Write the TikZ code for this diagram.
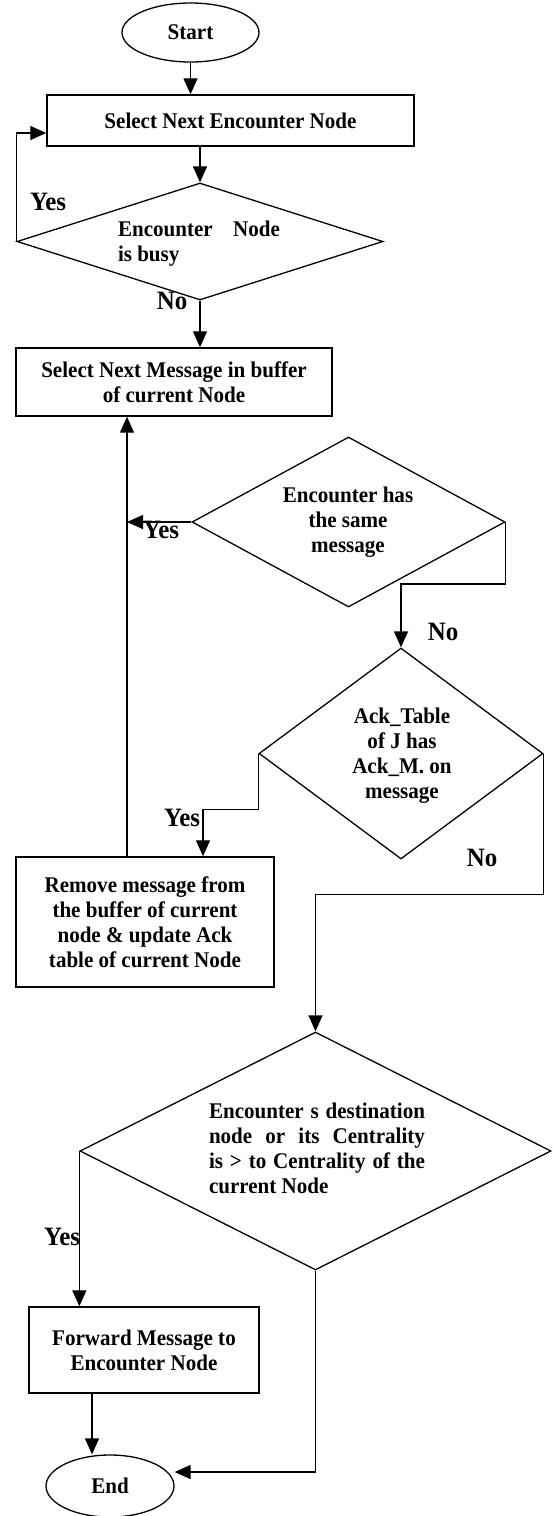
\documentclass[tikz,border=0pt]{standalone}
\usepackage{fontspec}
\setmainfont{Liberation Serif}[FakeStretch=0.94]
\usetikzlibrary{shapes.geometric,arrows.meta,calc}
\begin{document}
\begin{tikzpicture}[x=1pt,y=-1pt,
  every node/.style={font=\bfseries\fontsize{22.4}{25}\selectfont},
  proc/.style={draw,line width=1.4pt,rectangle,inner sep=0pt,align=center},
  term/.style={draw,line width=1.3pt,ellipse,inner sep=0pt},
  dec/.style={draw,line width=1.3pt,diamond,inner sep=0pt},
  lbl/.style={font=\bfseries\fontsize{26.5}{30}\selectfont,inner sep=0pt},
  arr/.style={line width=1.3pt,-{Triangle[length=16pt,width=14pt]}}]
\useasboundingbox (0,0) rectangle (552,1516);
% nodes
\node[term,minimum width=137pt,minimum height=59pt] (start) at (190.5,32.5) {Start};
\node[proc,minimum width=367pt,minimum height=51pt] (box1) at (230.5,120.5) {Select Next Encounter Node};
\node[dec,minimum width=366pt,minimum height=117pt] (d1) at (200,241.5) {};
\node (t1) at (199,244) {\parbox{162pt}{Encounter\hfill Node\\is busy}};
\node[proc,minimum width=316pt,minimum height=68pt] (box2) at (174,382) {Select Next Message in buffer\\of current Node};
\node[dec,minimum width=313pt,minimum height=170pt] (d2) at (348.5,522) {};
\node[align=center] (t2) at (348,522) {Encounter has\\the same\\message};
\node[dec,minimum width=284pt,minimum height=211pt] (d3) at (401,753.5) {};
\node[align=center] (t3) at (402,756) {Ack\_Table\\of J has\\Ack\_M. on\\message};
\node[proc,minimum width=258pt,minimum height=130pt] (box3) at (145,922) {Remove message from\\the buffer of current\\node \& update Ack\\table of current Node};
\node[dec,minimum width=471pt,minimum height=238pt] (d4) at (315.5,1151) {};
\node[align=left] (t4) at (317,1148) {\makebox[216pt][s]{Encounter s destination}\\\makebox[216pt][s]{node or its Centrality}\\\makebox[216pt][s]{is > to Centrality of the}\\current Node};
\node[proc,minimum width=230pt,minimum height=86pt] (box5) at (144,1350) {Forward Message to\\Encounter Node};
\node[term,minimum width=128pt,minimum height=62pt] (end) at (110,1486) {End};
% labels
\node[lbl] (y1) at (48,202) {Yes};
\node[lbl] (n1) at (172,301) {No};
\node[lbl] (y2) at (161,530) {Yes};
\node[lbl] (n2) at (443,632) {No};
\node[lbl] (y3) at (182,818) {Yes};
\node[lbl] (n3) at (482,858) {No};
\node[lbl] (y4) at (62,1237) {Yes};
% connectors
\coordinate (j1) at (127,522);
\draw[arr] (start.south) -- (start.south |- box1.north);
\draw[arr] (d1.north |- box1.south) -- (d1.north);
\draw[arr] (d1.west) |- ([yshift=-12.5pt]box1.west);
\draw[arr] (d1.south) -- (d1.south |- box2.north);
\draw[arr] (d2.west) -- (j1);
\draw[arr] (j1 |- box3.north) -- (j1 |- box2.south);
\draw[arr] (d2.east) -- ++(0,62) -| (d3.north);
\draw[arr] (d3.west) -- ++(0,56) -| ([xshift=58pt]box3.north);
\draw[arr] (d3.east) -- ++(0,141) -| (d4.north);
\draw[arr] (d4.west) -- (d4.west |- box5.north);
\draw[arr] ([xshift=-52pt]box5.south) -- ([xshift=-52pt]box5.south |- end.north);
\draw[arr] (d4.south) |- ([yshift=14pt]end.east);
\end{tikzpicture}
\end{document}
